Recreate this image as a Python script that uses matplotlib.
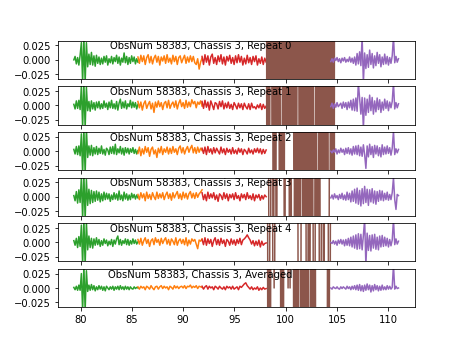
import numpy as np
import matplotlib
matplotlib.use('Agg')
import matplotlib.pyplot as plt

# band edges (GHz) for the 5 bands
band_lo = [79.35, 85.6, 91.85, 98.1, 104.4]
band_hi = [85.6, 91.85, 98.1, 104.8, 111.0]
band_colors = ['tab:green', 'tab:orange', 'tab:red', 'tab:brown', 'tab:purple']

titles = ['ObsNum 58383, Chassis 3, Repeat 0', 'ObsNum 58383, Chassis 3, Repeat 1',
          'ObsNum 58383, Chassis 3, Repeat 2', 'ObsNum 58383, Chassis 3, Repeat 3',
          'ObsNum 58383, Chassis 3, Repeat 4', 'ObsNum 58383, Chassis 3, Averaged']

# spectra, in units of 1e-3
green = [
    [0, 6, -7, 4, -9, 8, 30, -40, 40, -40, 30, -12, 10, -8, 13, -9, 7, -11, 8, -6, 5, -8, 3, -7, 6, -4, 7, -9, 2, -5, 6, -7, 4, -3, 8, -6, 5, -9, 3, -4, 12, -5, 6, -8, 4, -6, 7, -3, 5, -7, 2, -4],
    [2, -6, 8, -5, 9, -7, 35, -40, 40, -40, 32, -9, 7, -10, 8, -6, 5, -8, 6, -4, 7, -6, 3, -5, 8, -3, 4, -7, 6, -4, 9, -5, 3, -6, 7, -8, 4, 11, -5, 6, -4, 8, -6, 3, -2, 9, -4, 6, -3, 5, -6, 2],
    [3, -5, 8, -6, 9, -8, 30, -40, 40, -40, 40, -11, 9, -7, 10, -8, 6, -5, 8, -6, 5, -4, 9, -5, 3, -7, 5, 2, -6, 7, -4, 8, -5, 12, -6, 4, -3, 8, -5, 5, -7, 6, -3, 5, -5, 4, -2, 6, -4, 3, -5, 1],
    [2, -7, 9, -11, 12, -10, 35, -40, 40, -40, 30, -15, 13, -12, 11, -10, 9, -8, 10, -6, 8, -9, 5, -7, 8, -5, 6, -4, 5, -8, 3, -5, 7, -4, 5, -6, 10, -5, 3, -7, 8, -4, 5, -6, 3, -5, 6, -2, 4, -4, 3, -2],
    [3, -5, 7, -9, 10, -7, 30, -40, 40, -40, 35, -13, 11, -9, 7, -10, 6, -5, 8, -4, 5, -7, 3, -5, 6, -2, 4, -6, 2, -4, 5, -7, 4, -3, 6, 11, -4, 5, -5, 3, -2, 6, -4, 5, -5, 3, -3, 6, -2, 4, -3, 1],
    [1, -3, 3, -4, 5, -4, 25, -40, 40, -40, 30, -6, 5, -4, 6, -3, 4, -5, 2, -3, 4, -2, 3, -4, 2, -5, 3, 0, -3, 2, -2, 3, -4, 2, -2, 3, -3, 4, -2, 2, -3, 3, -2, 2, -3, 2, -1, -2, 2, -1, 1, 0],
]
orange = [
    [5, -6, 8, -3, 7, -8, 4, 9, -5, 6, -7, 3, 8, -4, 6, -9, 5, -2, 7, -6, 9, -4, 3, -7, 8, -3, 6, -8, 4, 7, -5, 2, 8, -6, 5, -4, 7, -3, 6, -5, -8, 2, -16, -4, 3],
    [7, -4, 6, -8, 3, 8, -5, 2, 7, -6, 4, -12, 6, -3, 8, -2, 5, -7, 4, 7, -4, 9, -5, 2, 6, -3, 8, -6, 4, 10, -2, 5, -5, 9, -3, 6, -2, 10, 3, 7, -4, 6, 2, 8, -1],
    [-4, 7, -8, 4, -5, 8, -2, 6, -9, 3, 7, -5, 2, -11, 5, -3, 8, -6, 4, -2, 7, -5, 5, -4, 8, -2, 4, -6, 5, 9, -3, 6, -5, 3, 8, -2, 5, 10, -3, 6, -4, 7, -2, 5, 1],
    [4, -5, 7, -2, 5, -7, 8, -3, 4, -5, 7, 0, -5, 8, -3, 5, -2, 7, -5, 3, 8, -3, 5, -6, 7, -2, 4, 9, -3, 5, -5, 8, -2, 6, -4, 5, 9, -2, 6, -3, 7, -1, 5, 8, 12],
    [5, -3, 7, -5, 3, 8, -2, 5, -7, 3, 6, -4, 8, 0, 5, -5, 7, -2, 4, 8, -3, 5, -5, 6, 2, -4, 8, -5, 3, 6, -2, 5, -4, 8, -6, 4, -3, 6, 2, 5, -3, -11, 4, 2, 6],
    [2, -2, 3, 0, 2, -3, 3, 1, -2, 4, 0, -3, 2, 3, -2, 2, 4, -1, 3, 0, 2, -3, 3, 1, -2, 4, 0, 3, -1, 2, 3, 0, 4, -1, 3, 2, 5, 0, 3, 1, 4, -1, 3, 2, 1],
]
red = [
    [6, -8, 9, -4, 7, -9, 5, 10, -6, 4, -8, 7, -3, 9, -7, 5, -9, 6, -2, 8, -6, 4, -8, 7, -5, 9, -4, 6, -9, 3, -7, 8, -5, 4, -8, 6, -3, 7, -9, 2, -6, 5, -8, 3, -4],
    [7, -5, 9, -3, 6, -8, 8, 1, -7, 5, 3, -6, 7, -2, 8, -6, 4, -4, 6, -5, 2, -7, 5, 0, -6, 4, -4, 3, -7, 4, -2, -6, 3, -7, 4, -4, -2, -6, 1, -4, 3, -7, 2, -5, -1],
    [5, -4, 7, -6, 8, -2, 4, -5, 6, -3, 5, 0, -5, 7, -3, 4, -6, 5, -2, 3, -5, 6, -4, 2, -5, 5, -2, 4, -6, 3, 0, -5, 5, -3, 2, -5, 4, -2, 5, -3, 4, -5, 3, -4, 2],
    [7, -5, 4, -7, 8, -3, 5, -2, 7, -5, 3, -8, 5, 2, -5, 7, -3, 5, -7, 4, -2, 5, -5, 7, -3, 2, -7, 5, -2, 4, -5, 7, -3, 2, -5, 5, -7, 3, -2, 4, -6, 2, -4, 3, 0],
    [5, -4, 8, -5, 6, -2, 5, -7, 3, 8, -4, 5, -5, 7, -2, 4, -7, 5, 2, -5, 6, -3, 4, -5, 5, -2, 7, -4, 4, 6, 9, 13, 8, 4, -3, 3, -6, 2, -5, 4, -8, 2, -5, -2, -1],
    [3, -2, 2, 4, -2, 3, 0, 2, -3, 3, 1, -2, 3, 0, -2, 2, -3, 3, 0, 2, -2, 3, -2, 0, 2, -3, 3, 1, 4, 7, 9, 4, 1, -2, 2, -3, 0, -2, 2, -4, 0, -3, 1, -2, -1],
]
# brown band is far off scale: + above, - below, m near zero
brown = [
    '+-+-+-+-+-+-+-+-+-+-+-+-+-+-+-+-+-+-+-+-+-+-+-+-+-+-+-+-+-+-+-+-+-+-+',
    '+-+-++-+-+-+-+--+-+-+-+-+-+-+-++-+-+-+-+-+-+-+--+-+-+-+-+-+-+-+-+-+',
    '+++++++-+-+++-+-+-+++++++++-+-+-+-+-+-+-+-+-+-+-+--+-+-+-+-+--+-+-+',
    '+++--++-++-+++++++-++++-+---+-+-+-++-+-+-+-+-+--+-+-+---------++++++',
    '++--+++--+++++++++++++++++++++++---+++++--+-+++--++++--++-++++--+++++',
    '++-+-+++m++++++-+-++++m+m+++-+-+-++-+-+-+-+--+-+-+------------+-++++++',
]
purple = [
    [-3, 2, -4, 3, -1, 4, -3, 2, -5, 3, -2, 4, -4, 1, -3, 5, -4, 3, -6, 5, -9, 11, -7, 14, -10, 40, -40, 12, -15, 9, -13, 17, -8, 11, -14, 7, -10, 13, -6, 9, -12, 5, -8, 10, -7, 6, -9, 4, -6, 7, 40, -5, 6, -4, 2],
    [-2, 4, -5, 3, -3, 5, -2, 1, 4, -5, 6, -3, 5, -7, 6, -4, 9, -8, 11, -9, 13, -10, 40, 12, -15, 14, -40, 13, -17, 11, -12, 18, -9, 14, -15, 8, -11, 13, -7, 10, -12, 6, -8, 11, -5, 8, -9, 6, -4, 7, 40, -6, 5, -4, 3],
    [0, -3, 2, -2, 4, -5, 2, -3, 5, -2, 3, -6, 5, -4, 6, -5, 4, -7, 8, -5, 9, -6, 10, -8, 7, -9, 11, -6, -30, 9, -10, 12, -6, 8, -11, 10, -5, 9, -8, 6, -10, 11, -6, 7, -5, 9, -4, 6, -7, 5, 35, -6, 4, -3, 3],
    [-2, 3, -4, 5, -2, 2, -5, 4, -3, 6, -5, 3, -6, 8, -5, 6, -9, 10, -8, 13, -11, 15, -13, 11, -16, 14, -12, 18, -10, 13, -15, 12, -9, 14, -11, 10, -13, 9, -8, 11, -6, 10, -7, 6, -5, 8, -6, 4, -5, 7, 33, -5, -22, 4, 2],
    [0, -2, 3, -3, 2, -5, 4, -2, 5, -3, 4, -6, 5, -5, 7, -6, 9, -8, 11, -10, 13, -12, 15, -11, 14, -13, 12, 40, -40, 16, -14, 12, -15, 13, -10, 14, -12, 9, -13, 11, -8, 12, -7, 9, -6, 7, -8, 5, -6, 4, 40, -4, 6, -3, 2],
    [0, -2, 2, 0, -1, 2, -1, -2, 2, -1, 2, 0, -2, 3, -1, 2, -3, 3, -2, 4, -3, 5, -4, 6, -5, 4, -6, 5, -4, 7, -3, 5, -7, 4, -5, 6, -3, 4, -5, 3, -4, 5, -3, 2, -3, 4, -2, 3, -2, 1, 40, -2, 3, -1, 0],
]

sign = {'+': 0.5, '-': -0.5, 'm': 0.0}

fig, axs = plt.subplots(6, 1, sharex=True, figsize=(6.4, 4.8), dpi=72)
for i, ax in enumerate(axs):
    spectra = [np.array(green[i]) * 1e-3, np.array(orange[i]) * 1e-3,
               np.array(red[i]) * 1e-3, np.array([sign[c] for c in brown[i]]),
               np.array(purple[i]) * 1e-3]
    for b in range(5):
        f = np.linspace(band_lo[b], band_hi[b], len(spectra[b]))
        ax.plot(f, spectra[b], color=band_colors[b])
    ax.set_ylim(-0.033, 0.033)
    ax.set_yticks([-0.025, 0.0, 0.025])
    ax.text(0.4, 1.0, titles[i], transform=ax.transAxes, ha='center', va='top')

axs[-1].set_xticks([80, 85, 90, 95, 100, 105, 110])
fig.savefig('out.png')
